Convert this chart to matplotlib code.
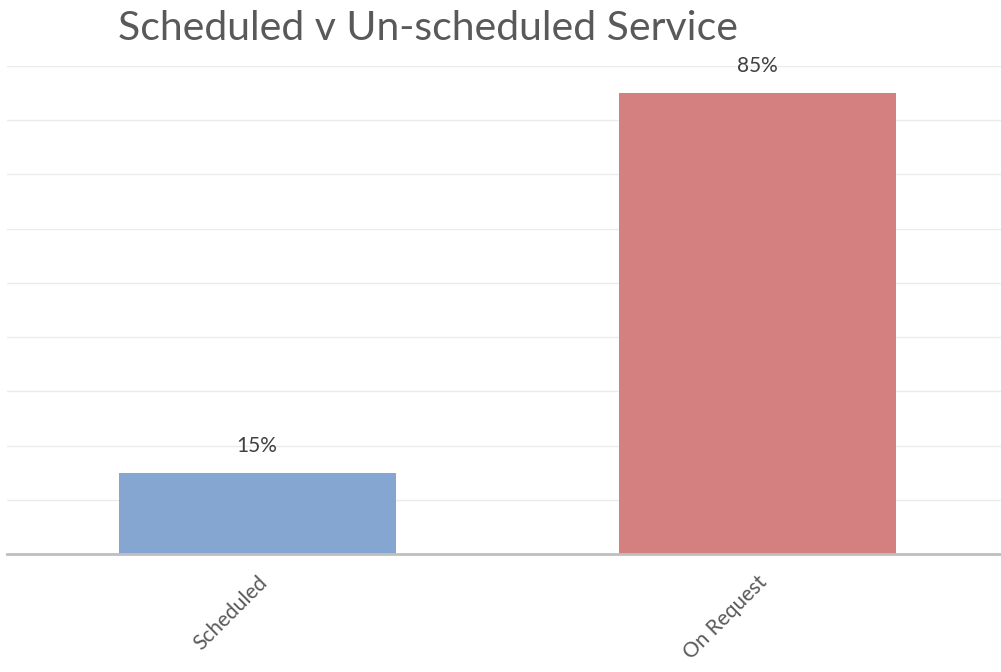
import matplotlib.pyplot as plt

# data
categories = ["Scheduled", "On Request"]
values = [15, 85]
bar_colors = ["#84A6D0", "#D47F80"]
title = "Scheduled v Un-scheduled Service"

plt.rcParams['font.family'] = ['Lato', 'DejaVu Sans']

fig = plt.figure(figsize=(10.01, 6.72), dpi=100)
ax = fig.add_axes([7 / 1001, 118 / 672, 1000 / 1001, 488 / 672])

x = range(len(categories))
bars = ax.bar(x, values, width=0.554, color=bar_colors, zorder=2)

ax.set_xlim(-0.5, 1.5)
ax.set_ylim(0, 90)
ax.set_yticks(range(10, 91, 10))
ax.yaxis.grid(True, color="#EBEBEB", linewidth=1, zorder=0)
ax.tick_params(axis='y', left=False, labelleft=False)
ax.tick_params(axis='x', length=0, pad=13)

for side in ["top", "right", "left"]:
    ax.spines[side].set_visible(False)
ax.spines["bottom"].set_color("#BFBFBF")
ax.spines["bottom"].set_linewidth(2)

ax.set_xticks(list(x))
ax.set_xticklabels(categories, rotation=45, ha="right", va="top",
                   rotation_mode="anchor", fontsize=15, color="#595959")

# value labels
for b, v in zip(bars, values):
    ax.annotate(f"{v}%", (b.get_x() + b.get_width() / 2, v),
                xytext=(0, 12), textcoords="offset points",
                ha="center", va="bottom", fontsize=15, color="#404040")

fig.text(118 / 1001, 1 - 28 / 672, title, fontsize=29.5, color="#595959",
         ha="left", va="center")

fig.savefig("out.png", dpi=100)
